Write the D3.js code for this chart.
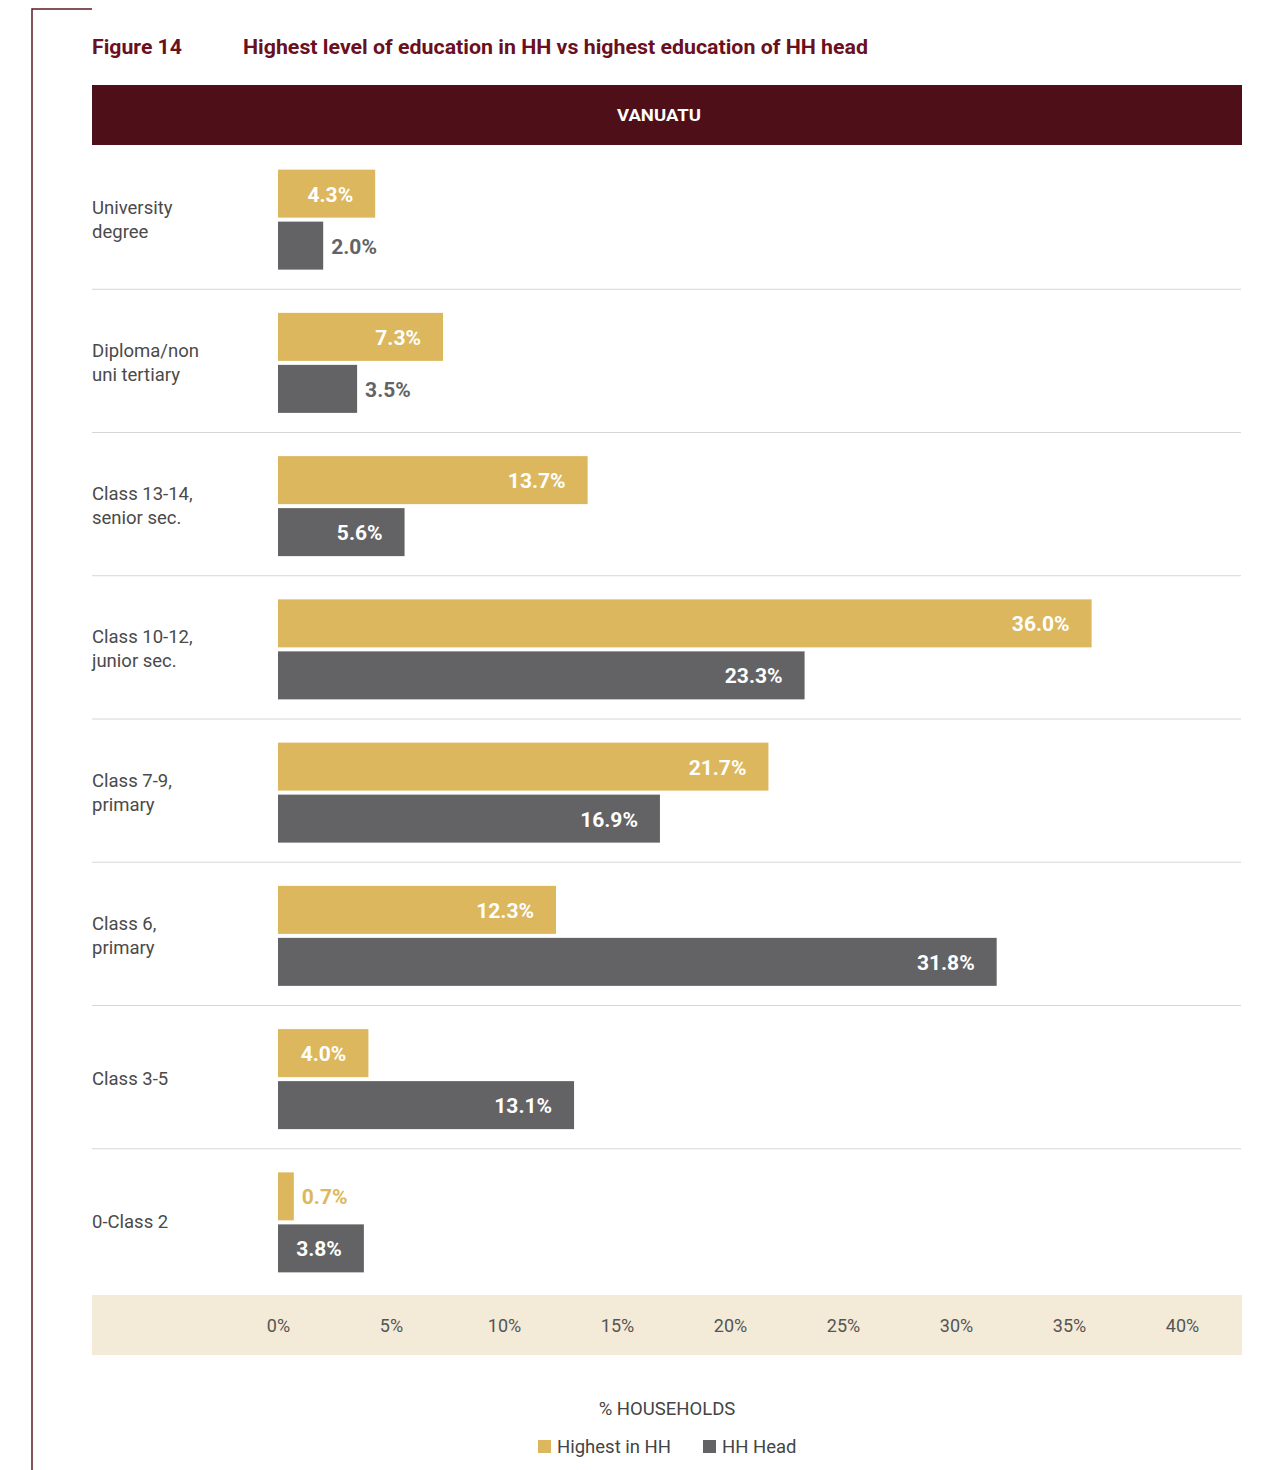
<!DOCTYPE html>
<html>
<head>
<meta charset="utf-8">
<script src="https://cdn.jsdelivr.net/npm/d3@7"></script>
<style>
  html, body { margin: 0; padding: 0; background: #fff; }
  svg { display: block; font-family: Roboto, "Noto Sans", sans-serif; }
</style>
</head>
<body>
<svg id="chart" width="1284" height="1470"></svg>
<script>
// Education levels, top to bottom
const categories = [
  ["University", "degree"],
  ["Diploma/non", "uni tertiary"],
  ["Class 13-14,", "senior sec."],
  ["Class 10-12,", "junior sec."],
  ["Class 7-9,", "primary"],
  ["Class 6,", "primary"],
  ["Class 3-5"],
  ["0-Class 2"]
];
// % of households
const highestInHH = [4.3, 7.3, 13.7, 36.0, 21.7, 12.3, 4.0, 0.7];
const hhHead      = [2.0, 3.5, 5.6, 23.3, 16.9, 31.8, 13.1, 3.8];
const seriesNames = ["Highest in HH", "HH Head"];
const tickValues  = [0, 5, 10, 15, 20, 25, 30, 35, 40];

const colors = { gold: "#dcb75d", grey: "#636365", maroon: "#4f0f18", title: "#6a1020" };

const svg = d3.select("#chart");

// frame line on the left
svg.append("path")
  .attr("d", "M92,9 H32 V1470")
  .attr("fill", "none").attr("stroke", "#5c1a24").attr("stroke-width", 1.5);

// title
svg.append("text").attr("x", 92).attr("y", 54)
  .attr("font-size", 20).attr("font-weight", 700).attr("fill", colors.title)
  .attr("textLength", 90).attr("lengthAdjust", "spacingAndGlyphs")
  .text("Figure 14");
svg.append("text").attr("x", 243).attr("y", 54)
  .attr("font-size", 20).attr("font-weight", 700).attr("fill", colors.title)
  .attr("textLength", 625).attr("lengthAdjust", "spacingAndGlyphs")
  .text("Highest level of education in HH vs highest education of HH head");

// country header band
svg.append("rect").attr("x", 92).attr("y", 85).attr("width", 1150).attr("height", 60)
  .attr("fill", colors.maroon);
svg.append("text").attr("x", 659).attr("y", 121).attr("text-anchor", "middle")
  .attr("font-size", 17).attr("font-weight", 700).attr("fill", "#fff")
  .attr("textLength", 84).attr("lengthAdjust", "spacingAndGlyphs")
  .text("VANUATU");

// scales
const x = d3.scaleLinear().domain([0, 40]).range([278, 1182]);
const y = d3.scaleBand().domain(d3.range(categories.length)).range([146, 1292]);
const barH = 48;

const rows = svg.append("g").selectAll("g").data(categories).join("g")
  .attr("transform", (d, i) => `translate(0,${y(i) + y.bandwidth() / 2})`);

// separators between rows
rows.filter((d, i) => i < categories.length - 1).append("line")
  .attr("x1", 92).attr("x2", 1241)
  .attr("y1", y.bandwidth() / 2).attr("y2", y.bandwidth() / 2)
  .attr("stroke", "#d6d6d6").attr("stroke-width", 1);

// category labels
rows.append("text")
  .attr("x", 92)
  .attr("font-size", 18.5).attr("fill", "#4a4a4a")
  .each(function (d) {
    const t = d3.select(this);
    const lh = 24;
    const start = -((d.length - 1) * lh) / 2 + 8;
    d.forEach((line, k) => {
      t.append("tspan").attr("x", 92).attr("y", start + k * lh).text(line);
    });
  });

// bars
const series = [
  { name: seriesNames[0], values: highestInHH, color: colors.gold, dy: -48 },
  { name: seriesNames[1], values: hhHead, color: colors.grey, dy: 4 }
];

series.forEach(s => {
  rows.append("rect")
    .attr("x", x(0))
    .attr("y", s.dy)
    .attr("width", (d, i) => x(s.values[i]) - x(0))
    .attr("height", barH)
    .attr("fill", s.color);

  rows.append("text")
    .attr("y", s.dy + barH / 2 + 8)
    .attr("font-size", 21).attr("font-weight", 700)
    .each(function (d, i) {
      const v = s.values[i];
      const inside = v >= 3.7;
      d3.select(this)
        .attr("x", inside ? x(v) - 22 : x(v) + 8)
        .attr("text-anchor", inside ? "end" : "start")
        .attr("fill", inside ? "#fff" : s.color)
        .text(v.toFixed(1) + "%");
    });
});

// axis band
svg.append("rect").attr("x", 92).attr("y", 1295).attr("width", 1150).attr("height", 60)
  .attr("fill", "#f3ead7");
const axis = d3.axisBottom(x).tickValues(tickValues).tickFormat(d => d + "%").tickSize(0).tickPadding(0);
const ag = svg.append("g").attr("transform", "translate(0,1332)").call(axis);
ag.select(".domain").remove();
ag.selectAll("text").attr("font-size", 18).attr("fill", "#555")
  .attr("font-family", "Roboto, sans-serif").attr("dy", 0).attr("y", 0);

// axis title
svg.append("text").attr("x", 667).attr("y", 1415).attr("text-anchor", "middle")
  .attr("font-size", 18.5).attr("fill", "#444").text("% HOUSEHOLDS");

// legend
const legendX = [538, 703];
const lg = svg.append("g").selectAll("g").data(series).join("g")
  .attr("transform", (d, i) => `translate(${legendX[i]},1440)`);
lg.append("rect").attr("width", 13).attr("height", 13).attr("fill", d => d.color);
lg.append("text").attr("x", 19).attr("y", 13).attr("font-size", 18.5).attr("fill", "#444")
  .text(d => d.name);
</script>
</body>
</html>
